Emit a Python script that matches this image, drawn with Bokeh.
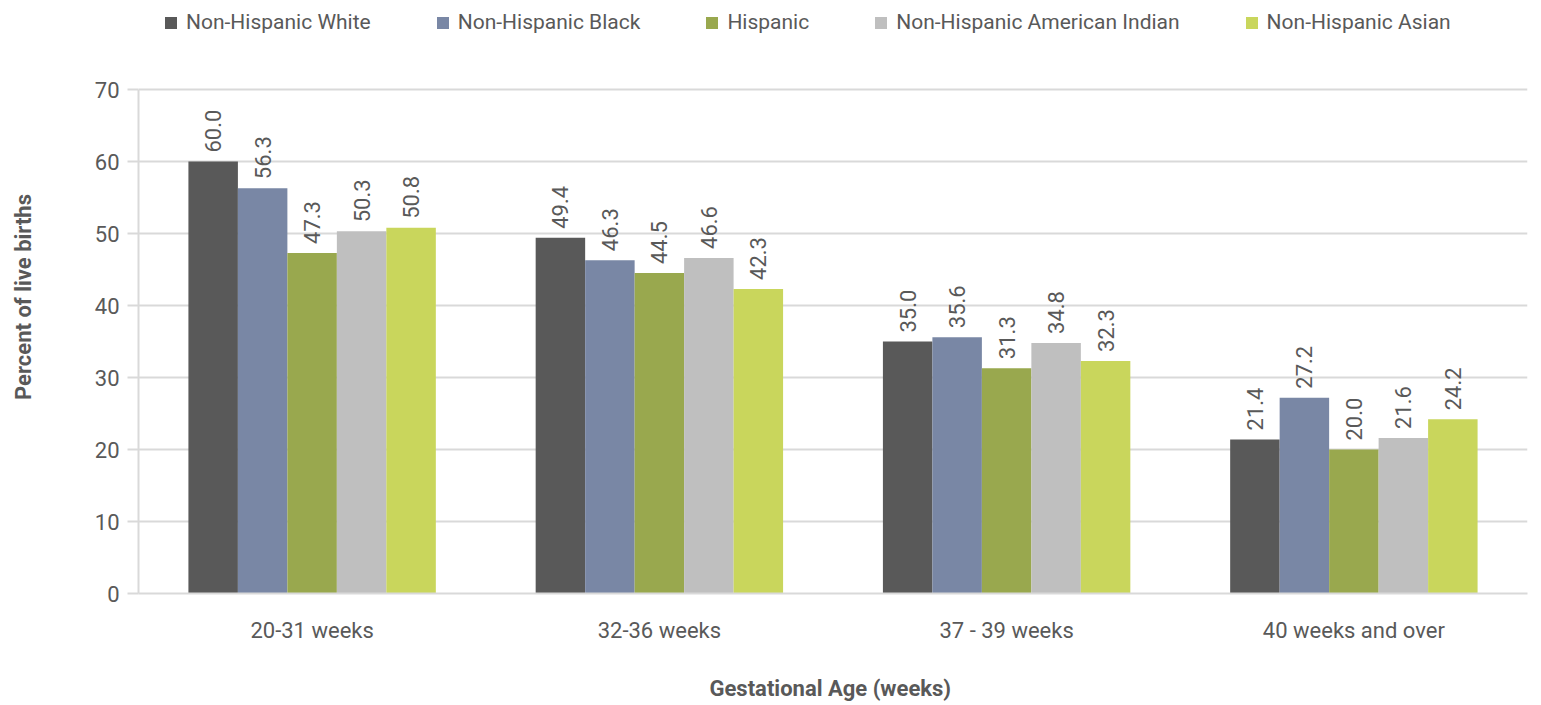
from bokeh.plotting import figure
from bokeh.models import ColumnDataSource, Range1d, Legend, LegendItem, FactorRange
from bokeh.transform import dodge
from bokeh.core.properties import value
from bokeh.embed import file_html
from bokeh.resources import INLINE
import math

categories = ["20-31 weeks", "32-36 weeks", "37 - 39 weeks", "40 weeks and over"]
series_names = ["Non-Hispanic White", "Non-Hispanic Black", "Hispanic",
                "Non-Hispanic American Indian", "Non-Hispanic Asian"]
white = [60.0, 49.4, 35.0, 21.4]
black = [56.3, 46.3, 35.6, 27.2]
hispanic = [47.3, 44.5, 31.3, 20.0]
am_indian = [50.3, 46.6, 34.8, 21.6]
asian = [50.8, 42.3, 32.3, 24.2]
y_ticks = [0, 10, 20, 30, 40, 50, 60, 70]

colors = ["#595959", "#7987A5", "#99A84E", "#BFBFBF", "#C9D65C"]
FONT = "Roboto"
TXT = "#595959"

all_series = [white, black, hispanic, am_indian, asian]

FRAME_H = 593
PX_PER_UNIT = 7.2
p = figure(x_range=FactorRange(*categories, range_padding=0),
           y_range=Range1d(0, FRAME_H / PX_PER_UNIT),
           frame_width=1389, frame_height=FRAME_H, output_backend="svg", toolbar_location=None,
           min_border_left=138, min_border_right=6, min_border_top=0, min_border_bottom=104)
p.x_range.range_padding = 0
p.outline_line_color = None

bw = 0.1425
offsets = [-2 * bw, -bw, 0, bw, 2 * bw]
items = []
for name, vals, col, off in zip(series_names, all_series, colors, offsets):
    src = ColumnDataSource(dict(cat=categories, val=vals, lab=["%.1f" % v for v in vals]))
    r = p.vbar(x=dodge("cat", off, range=p.x_range), top="val", width=bw, source=src,
               fill_color=col, line_color=None)
    p.text(x=dodge("cat", off, range=p.x_range), y="val", text="lab", source=src,
           angle=math.pi / 2, text_align="left", text_baseline="middle",
           x_offset=0, y_offset=-9, text_font=value(FONT), text_font_size="22px",
           text_color=TXT)
    items.append(LegendItem(label=name, renderers=[r]))

legend = Legend(items=items, orientation="horizontal", location=(25, FRAME_H - 34),
                label_text_font=FONT, label_text_font_size="21px", label_text_color=TXT,
                glyph_width=15, glyph_height=15, label_standoff=8, spacing=64,
                padding=0, margin=0, border_line_color=None, background_fill_alpha=0)
p.add_layout(legend, "center")

p.xgrid.grid_line_color = None
p.ygrid.grid_line_color = "#D9D9D9"
p.ygrid.grid_line_width = 2
p.yaxis.ticker = y_ticks
p.yaxis.bounds = (0, 70)
p.yaxis.axis_line_color = "#D9D9D9"
p.yaxis.axis_line_width = 2
p.yaxis.major_tick_line_color = "#D9D9D9"
p.yaxis.major_tick_line_width = 2
p.yaxis.major_tick_out = 11
p.yaxis.major_tick_in = 0
p.yaxis.minor_tick_line_color = None
p.yaxis.major_label_standoff = 8
p.yaxis.major_label_text_font = FONT
p.yaxis.major_label_text_font_size = "22px"
p.yaxis.major_label_text_color = TXT
p.yaxis.axis_label = "Percent of live births"
p.yaxis.axis_label_text_font = FONT
p.yaxis.axis_label_text_font_style = "bold"
p.yaxis.axis_label_text_font_size = "22px"
p.yaxis.axis_label_text_color = TXT
p.yaxis.axis_label_standoff = 56

p.xaxis.axis_line_color = "#D9D9D9"
p.xaxis.axis_line_width = 2
p.xaxis.major_tick_line_color = None
p.xaxis.minor_tick_line_color = None
p.xaxis.major_label_standoff = 18
p.xaxis.major_label_text_font = FONT
p.xaxis.major_label_text_font_size = "22px"
p.xaxis.major_label_text_color = TXT
p.xaxis.axis_label = "Gestational  Age (weeks)"
p.xaxis.axis_label_text_font = FONT
p.xaxis.axis_label_text_font_style = "bold"
p.xaxis.axis_label_text_font_size = "22px"
p.xaxis.axis_label_text_color = TXT
p.xaxis.axis_label_standoff = 30

open("out.html", "w").write(file_html(p, INLINE))
